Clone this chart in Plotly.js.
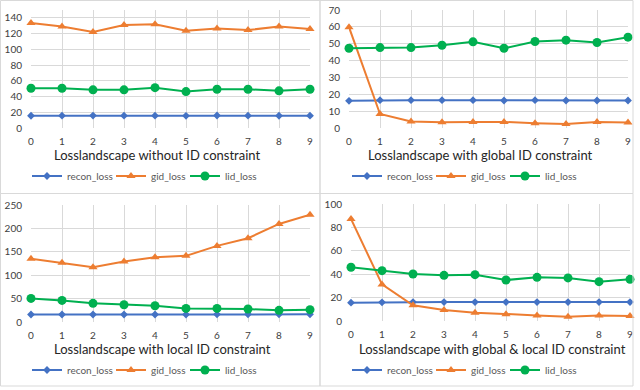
<!DOCTYPE html>
<html>
<head>
<meta charset="utf-8">
<script src="https://cdn.plot.ly/plotly-3.0.1.min.js"></script>
<style>
  html, body { margin: 0; padding: 0; background: #fff; }
  #plot { width: 640px; height: 390px; }
</style>
</head>
<body>
<div id="plot"></div>
<script>
// x categories (epochs)
var steps = [0, 1, 2, 3, 4, 5, 6, 7, 8, 9];

// panel 1: without ID constraint
var recon1 = [15.6, 15.7, 15.8, 15.7, 15.7, 15.5, 15.9, 15.7, 15.6, 15.7];
var gid1   = [133.5, 129, 122, 131, 132, 123.5, 126.5, 124.5, 129, 126];
var lid1   = [50.5, 50.5, 48.5, 48.5, 51.3, 46.3, 49.3, 49.3, 47.2, 49.3];

// panel 2: with global ID constraint
var recon2 = [16.1, 16.5, 16.5, 16.5, 16.5, 16.3, 16.5, 16.3, 16.3, 16.3];
var gid2   = [59.8, 8.3, 3.8, 3.4, 3.6, 3.6, 2.8, 2.4, 3.6, 3.2];
var lid2   = [47.3, 47.7, 47.7, 49.1, 51.1, 47.3, 51.3, 52.1, 50.7, 53.9];

// panel 3: with local ID constraint
var recon3 = [16, 16, 16, 16, 16, 16, 16.3, 16.3, 16.3, 16.3];
var gid3   = [135, 126.4, 117.2, 129.3, 138.5, 141.3, 162.6, 179, 209.5, 229.4];
var lid3   = [50.4, 46.2, 39.8, 36.9, 34.8, 29.1, 29.1, 27.7, 24.9, 26.3];

// panel 4: with global & local ID constraint
var recon4 = [15.7, 16, 16.2, 16.2, 16.2, 16.2, 16.2, 16.2, 16.2, 16.2];
var gid4   = [87.2, 31.3, 13.4, 9.4, 7.1, 5.7, 4.8, 3.7, 4.8, 4.3];
var lid4   = [45.9, 43, 40.2, 39, 39.6, 35, 37.3, 36.8, 33.6, 35.6];

var titles = ['Losslandscape without ID constraint',
              'Losslandscape with global ID constraint',
              'Losslandscape with local ID constraint',
              'Losslandscape with global & local ID constraint'];
var yMax   = [150, 70, 250, 100];
var yTicks = [[0, 20, 40, 60, 80, 100, 120, 140],
              [0, 10, 20, 30, 40, 50, 60, 70],
              [0, 50, 100, 150, 200, 250],
              [0, 20, 40, 60, 80, 100]];

var W = 640, H = 390;
var px = function(x) { return x / W; };
var py = function(y) { return 1 - y / H; };

// plot areas in pixels [left, right, top, bottom]
var boxes = [[31, 310, 10, 128], [349, 628, 10, 128], [31, 310, 205, 322], [351, 630, 204, 321]];
// panel offsets for the legends, and where each legend entry's text starts
var panelOrigin = [[0, 176], [320, 176], [0, 370], [320, 370]];
var legendTextX = [79, 163, 237];
var titlePos = [[157, 155], [480, 155], [162, 349], [492, 349]];

var font = 'Lato, "Open Sans", sans-serif';
var colors = {recon: '#4472C4', gid: '#ED7D31', lid: '#00B050'};

var series = [[recon1, gid1, lid1], [recon2, gid2, lid2], [recon3, gid3, lid3], [recon4, gid4, lid4]];
var names = ['recon_loss', 'gid_loss', 'lid_loss'];
var keys = ['recon', 'gid', 'lid'];
var symbols = ['diamond', 'triangle-up', 'circle'];
var sizes = [6, 8, 9];

var data = [];
var layout = {
    width: W, height: H,
    margin: {l: 0, r: 0, t: 0, b: 0},
    paper_bgcolor: '#fff',
    plot_bgcolor: 'rgba(0,0,0,0)',
    showlegend: true,
    font: {family: font, size: 10, color: '#404040'},
    annotations: [],
    shapes: []
};

for (var p = 0; p < 4; p++) {
    var sfx = p === 0 ? '' : String(p + 1);
    var b = boxes[p];

    for (var s = 0; s < 3; s++) {
        // one legend per entry so each sits where Excel put it
        var n = p * 3 + s + 1;
        var legName = n === 1 ? 'legend' : 'legend' + n;
        data.push({
            x: steps,
            y: series[p][s],
            xaxis: 'x' + sfx,
            yaxis: 'y' + sfx,
            name: names[s],
            legend: legName,
            showlegend: true,
            type: 'scatter',
            mode: 'lines+markers',
            cliponaxis: false,
            line: {color: colors[keys[s]], width: 2},
            marker: {color: colors[keys[s]], symbol: symbols[s], size: sizes[s]}
        });
        layout[legName] = {
            orientation: 'h',
            x: px(panelOrigin[p][0] + legendTextX[s] - 52),
            y: py(panelOrigin[p][1]),
            xanchor: 'left', yanchor: 'middle',
            itemwidth: 30,
            font: {family: font, size: 10, color: '#595959'},
            bgcolor: 'rgba(0,0,0,0)'
        };
    }

    layout['xaxis' + sfx] = {
        domain: [px(b[0]), px(b[1])],
        anchor: 'y' + sfx,
        range: [0, 9],
        tickvals: steps,
        showgrid: true, gridcolor: '#d9d9d9', gridwidth: 1,
        zeroline: false, showline: false, ticks: '',
        ticklabelstandoff: 6,
        tickfont: {family: font, size: 10, color: '#404040'},
        fixedrange: true
    };
    layout['yaxis' + sfx] = {
        domain: [py(b[3]), py(b[2])],
        anchor: 'x' + sfx,
        range: [0, yMax[p]],
        tickvals: yTicks[p],
        showgrid: true, gridcolor: '#d9d9d9', gridwidth: 1,
        zeroline: false, showline: false, ticks: '',
        ticklabelstandoff: 8,
        tickfont: {family: font, size: 10, color: '#404040'},
        fixedrange: true
    };
    layout.annotations.push({
        text: titles[p],
        xref: 'paper', yref: 'paper',
        x: px(titlePos[p][0]), y: py(titlePos[p][1]),
        xanchor: 'center', yanchor: 'middle',
        showarrow: false,
        font: {family: font, size: 13, color: '#262626'}
    });
}

// chart frames
var frames = [[0.5, 320, 0.5, 193.5], [320, 633, 0.5, 193.5], [0.5, 320, 193.5, 386], [320, 633, 193.5, 386]];
frames.forEach(function(f) {
    layout.shapes.push({
        type: 'rect', xref: 'paper', yref: 'paper',
        x0: px(f[0]), x1: px(f[1]), y0: py(f[3]), y1: py(f[2]),
        line: {color: '#d9d9d9', width: 1}
    });
});

Plotly.newPlot('plot', data, layout, {displayModeBar: false, staticPlot: true});
</script>
</body>
</html>
